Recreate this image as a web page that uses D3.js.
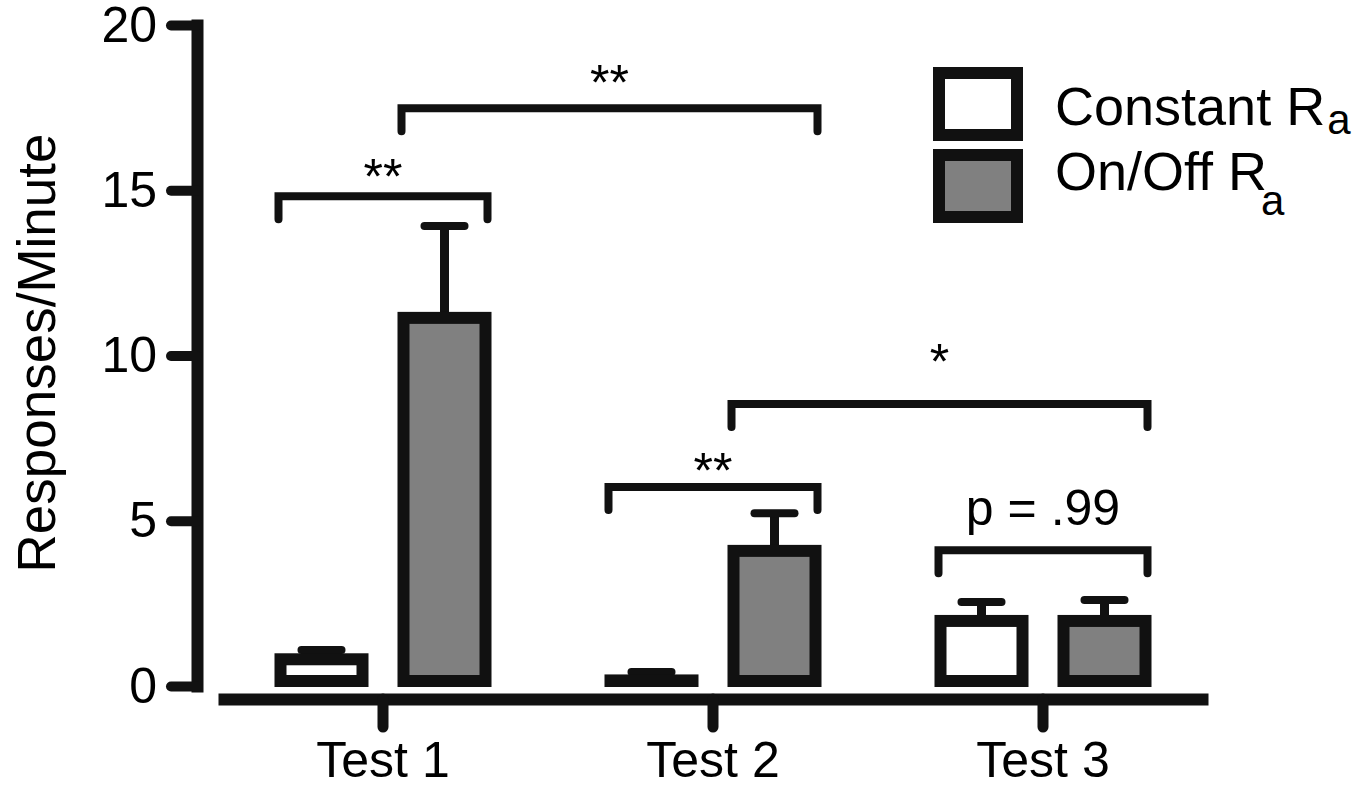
<!DOCTYPE html>
<html lang="en">

<head>
	<meta charset="utf-8">
	<title>responses_per_minute</title>
	<style>
		body {
			margin: 0;
			background: #fff;
		}
	</style>
</head>

<body>
	<script src="https://cdn.jsdelivr.net/npm/d3@7"></script>
	<script>

		// data
		const groups = ["Test 1", "Test 2", "Test 3"];
		const series = ["Constant", "On/Off"];
		const constantMean = [0.99, 0.35, 2.15];
		const constantErr = [0.1, 0.07, 0.39];
		const onOffMean = [11.32, 4.27, 2.15];
		const onOffErr = [2.6, 0.96, 0.45];
		const yTicks = [0, 5, 10, 15, 20];

		// significance brackets: [group, series] -> [group, series]
		const brackets = [
			{ from: [0, 0], to: [0, 1], y: 14.82, labelY: 14.88, label: "**" },
			{ from: [0, 1], to: [1, 1], y: 17.48, labelY: 17.73, label: "**" },
			{ from: [1, 0], to: [1, 1], y: 6.02, labelY: 5.99, label: "**" },
			{ from: [1, 1], to: [2, 1], y: 8.53, labelY: 9.29, label: "*" },
			{ from: [2, 0], to: [2, 1], y: 4.11, labelY: 4.87, label: "p = .99" }
		];

		const legendItems = [
			{ label: "Constant R", sub: "a", fill: "#fff", subDx: 2, subDy: 9 },
			{ label: "On/Off R", sub: "a", fill: "#808080", subDx: -6, subDy: 25 }
		];

		const width = 1372;
		const height = 785;
		const font = "'Liberation Sans', Arial, Helvetica, sans-serif";
		const ink = "#111";
		const barW = 94;
		const barStroke = 12;

		const values = [constantMean, onOffMean];
		const errors = [constantErr, onOffErr];
		const fills = ["#fff", "#808080"];

		const x0 = d3.scaleBand()
			.domain(groups)
			.range([218, 1208])
			.padding(0);

		const x1 = d3.scaleBand()
			.domain(series)
			.range([42, 288])
			.padding(0);

		const y = d3.scaleLinear()
			.domain([0, 20])
			.range([686, 25]);

		const svg = d3.select(document.body)
			.append("svg")
			.attr("width", width)
			.attr("height", height)
			.style("font-family", font);

		// bars
		const bars = [];
		groups.forEach((g, gi) => {
			series.forEach((s, si) => {
				const left = x0(g) + x1(s) + (x1.bandwidth() - barW) / 2;
				bars.push({
					gi, si, left,
					cx: left + barW / 2,
					v: values[si][gi],
					e: errors[si][gi]
				});
			});
		});
		const barOf = (gi, si) => bars.find((b) => b.gi === gi && b.si === si);

		// error bars (stem + cap)
		const err = svg.append("g")
			.attr("stroke", ink)
			.attr("fill", "none");

		err.selectAll("line.stem")
			.data(bars)
			.join("line")
			.attr("class", "stem")
			.attr("x1", (d) => d.cx)
			.attr("x2", (d) => d.cx)
			.attr("y1", (d) => y(d.v) + barStroke / 2)
			.attr("y2", (d) => y(d.v + d.e))
			.attr("stroke-width", 9);

		err.selectAll("line.cap")
			.data(bars)
			.join("line")
			.attr("class", "cap")
			.attr("x1", (d) => d.cx - 20)
			.attr("x2", (d) => d.cx + 20)
			.attr("y1", (d) => y(d.v + d.e))
			.attr("y2", (d) => y(d.v + d.e))
			.attr("stroke-width", 8)
			.attr("stroke-linecap", "round");

		svg.append("g")
			.selectAll("rect")
			.data(bars)
			.join("rect")
			.attr("x", (d) => d.left + barStroke / 2)
			.attr("y", (d) => y(d.v) + barStroke / 2)
			.attr("width", barW - barStroke)
			.attr("height", (d) => Math.max(0.5, y(0) + 1 - y(d.v) - barStroke))
			.attr("fill", (d) => fills[d.si])
			.attr("stroke", ink)
			.attr("stroke-width", barStroke);

		// y axis
		const yAxis = svg.append("g")
			.attr("transform", "translate(197,0)")
			.call(d3.axisLeft(y).tickValues(yTicks).tickSize(26).tickSizeOuter(0).tickPadding(14));
		yAxis.select(".domain")
			.attr("stroke", ink)
			.attr("stroke-width", 12)
			.attr("stroke-linecap", "square");
		yAxis.selectAll(".tick line")
			.attr("stroke", ink)
			.attr("stroke-width", 10)
			.attr("stroke-linecap", "round");
		yAxis.selectAll(".tick text")
			.attr("fill", "#000")
			.style("font-size", "50px")
			.style("font-family", font);

		// x axis
		const xAxis = svg.append("g")
			.attr("transform", "translate(0,699)")
			.call(d3.axisBottom(x0).tickSize(28).tickSizeOuter(0).tickPadding(14));
		xAxis.select(".domain")
			.attr("stroke", ink)
			.attr("stroke-width", 12);
		xAxis.selectAll(".tick line")
			.attr("stroke", ink)
			.attr("stroke-width", 11)
			.attr("stroke-linecap", "round");
		xAxis.selectAll(".tick text")
			.attr("fill", "#000")
			.style("font-size", "50px")
			.style("font-family", font);

		// y label
		svg.append("text")
			.attr("transform", "translate(55,353) rotate(-90)")
			.attr("text-anchor", "middle")
			.style("font-size", "53px")
			.text("Responses/Minute");

		// significance brackets
		const legLen = 23;
		const br = svg.append("g");
		brackets.forEach((b) => {
			const a = barOf(b.from[0], b.from[1]);
			const c = barOf(b.to[0], b.to[1]);
			const xl = a.left + 4;
			const xr = c.left + barW - 4;
			const yy = y(b.y);
			br.append("path")
				.attr("d", `M${xl},${yy + legLen} V${yy} H${xr} V${yy + legLen}`)
				.attr("fill", "none")
				.attr("stroke", ink)
				.attr("stroke-width", 8)
				.attr("stroke-linecap", "round")
				.attr("stroke-linejoin", "miter");
			br.append("text")
				.attr("x", (xl + xr) / 2)
				.attr("y", y(b.labelY))
				.attr("text-anchor", "middle")
				.style("font-size", "50px")
				.text(b.label);
		});

		// legend
		const legend = svg.append("g");
		legendItems.forEach((d, i) => {
			const top = 67 + i * 82;
			legend.append("rect")
				.attr("x", 933 + 6)
				.attr("y", top + 6)
				.attr("width", 90 - 12)
				.attr("height", 74 - 12)
				.attr("fill", d.fill)
				.attr("stroke", ink)
				.attr("stroke-width", 12);
			const t = legend.append("text")
				.attr("x", 1055)
				.attr("y", [125, 190][i])
				.style("font-size", "54px");
			t.append("tspan").text(d.label);
			t.append("tspan")
				.attr("dx", d.subDx)
				.attr("dy", d.subDy)
				.style("font-size", "42px")
				.text(d.sub);
		});

	</script>
</body>

</html>
